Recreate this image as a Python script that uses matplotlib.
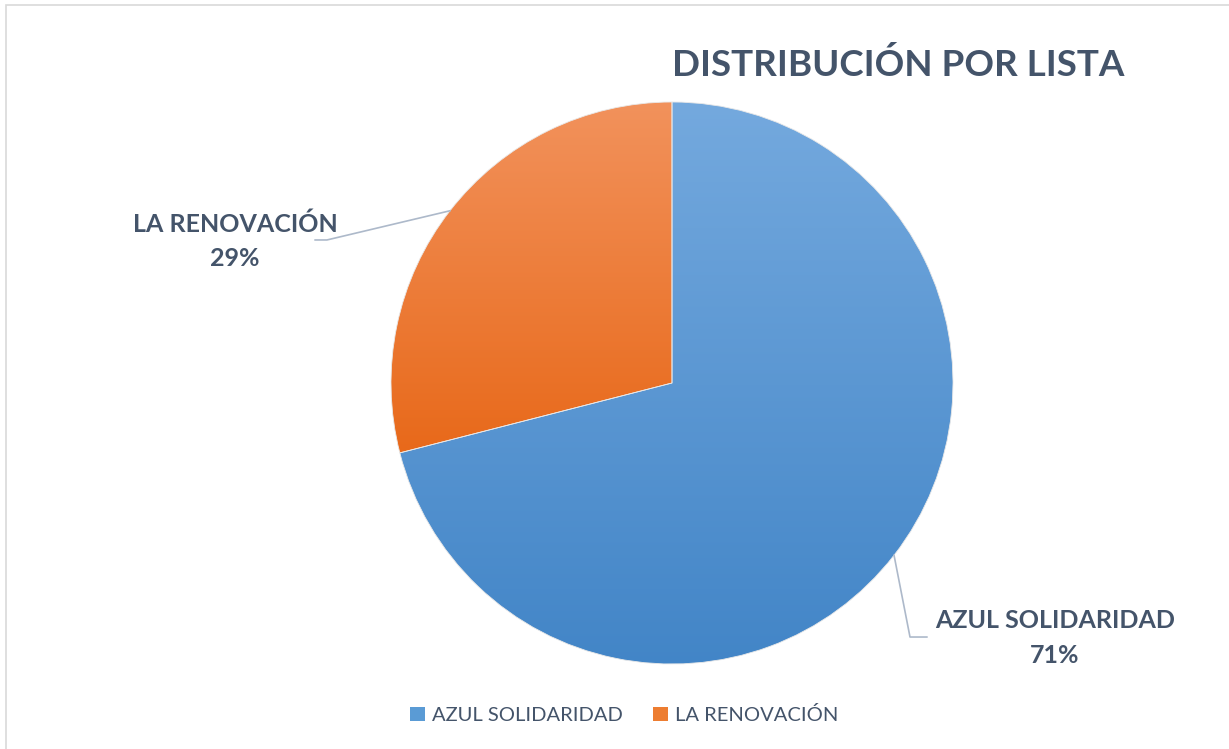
import numpy as np
import matplotlib.pyplot as plt
from matplotlib.colors import LinearSegmentedColormap
from matplotlib.patches import Patch, Rectangle

labels = ['AZUL SOLIDARIDAD', 'LA RENOVACIÓN']
values = [71, 29]
top_colors = ['#74A9DE', '#F2925C']
bottom_colors = ['#4285C7', '#E8691A']
legend_colors = ['#5A9BD5', '#ED7D31']

text_color = '#44546A'
plt.rcParams['font.family'] = ['Lato', 'DejaVu Sans']

fig = plt.figure(figsize=(12.29, 7.49), dpi=100)

# marco gris claro
fig.patches.append(Rectangle((6 / 1229, -0.1), 1.2, (749 - 5) / 749 + 0.1,
                             transform=fig.transFigure, fill=False,
                             edgecolor='#D9D9D9', linewidth=1.2))

ax = fig.add_axes([(672 - 281) / 1229, (749 - 664) / 749, 562 / 1229, 562 / 749])
wedges, _ = ax.pie(values, startangle=90, counterclock=False, radius=1,
                   wedgeprops=dict(linewidth=0.6, edgecolor='#E8E8E8'))

# degradado vertical en cada sector (según su propia altura)
grad = np.linspace(0, 1, 256).reshape(-1, 1)
for w, c1, c2 in zip(wedges, top_colors, bottom_colors):
    w.set_facecolor('none')
    ys = w.get_path().vertices[:, 1]
    cmap = LinearSegmentedColormap.from_list('g', [c1, c2])
    im = ax.imshow(grad, cmap=cmap, extent=[-1, 1, ys.min(), ys.max()],
                   origin='upper', aspect='auto', zorder=0)
    im.set_clip_path(w)
ax.set_xlim(-1, 1)
ax.set_ylim(-1, 1)
ax.set_aspect('equal')
ax.axis('off')

# etiquetas con líneas guía
total = sum(values)
label_pos = {0: (1.363, -0.907, 0.06, -0.904), 1: (-1.555, 0.505, -0.042, 0.509)}
for i, w in enumerate(wedges):
    ang = np.deg2rad((w.theta1 + w.theta2) / 2)
    sx, sy = np.cos(ang), np.sin(ang)
    tx, ty, dx, ey = label_pos[i]
    if i == 0:
        ex = 0.847
    else:
        ex = -1.228
    ax.plot([sx, ex, ex + dx], [sy, ey, ey], color='#ADB9CA', lw=1.2,
            clip_on=False)
    pct = round(values[i] / total * 100)
    ax.text(tx, ty, f'{labels[i]}\n{pct}%', ha='center', va='center',
            fontsize=18, fontweight='bold', color=text_color,
            linespacing=1.6, clip_on=False)

fig.text(898 / 1229, (749 - 65) / 749, 'DISTRIBUCIÓN POR LISTA', ha='center',
         va='center', fontsize=26.5, fontweight='bold', color=text_color)

handles = [Patch(facecolor=c, edgecolor='none') for c in legend_colors]
fig.legend(handles, labels, loc='center', bbox_to_anchor=(624 / 1229, (749 - 715) / 749),
           ncol=2, frameon=False, fontsize=14.5, labelcolor=text_color,
           handlelength=0.75, handleheight=0.75, handletextpad=0.35,
           columnspacing=1.5)

fig.savefig('out.png', dpi=100)
